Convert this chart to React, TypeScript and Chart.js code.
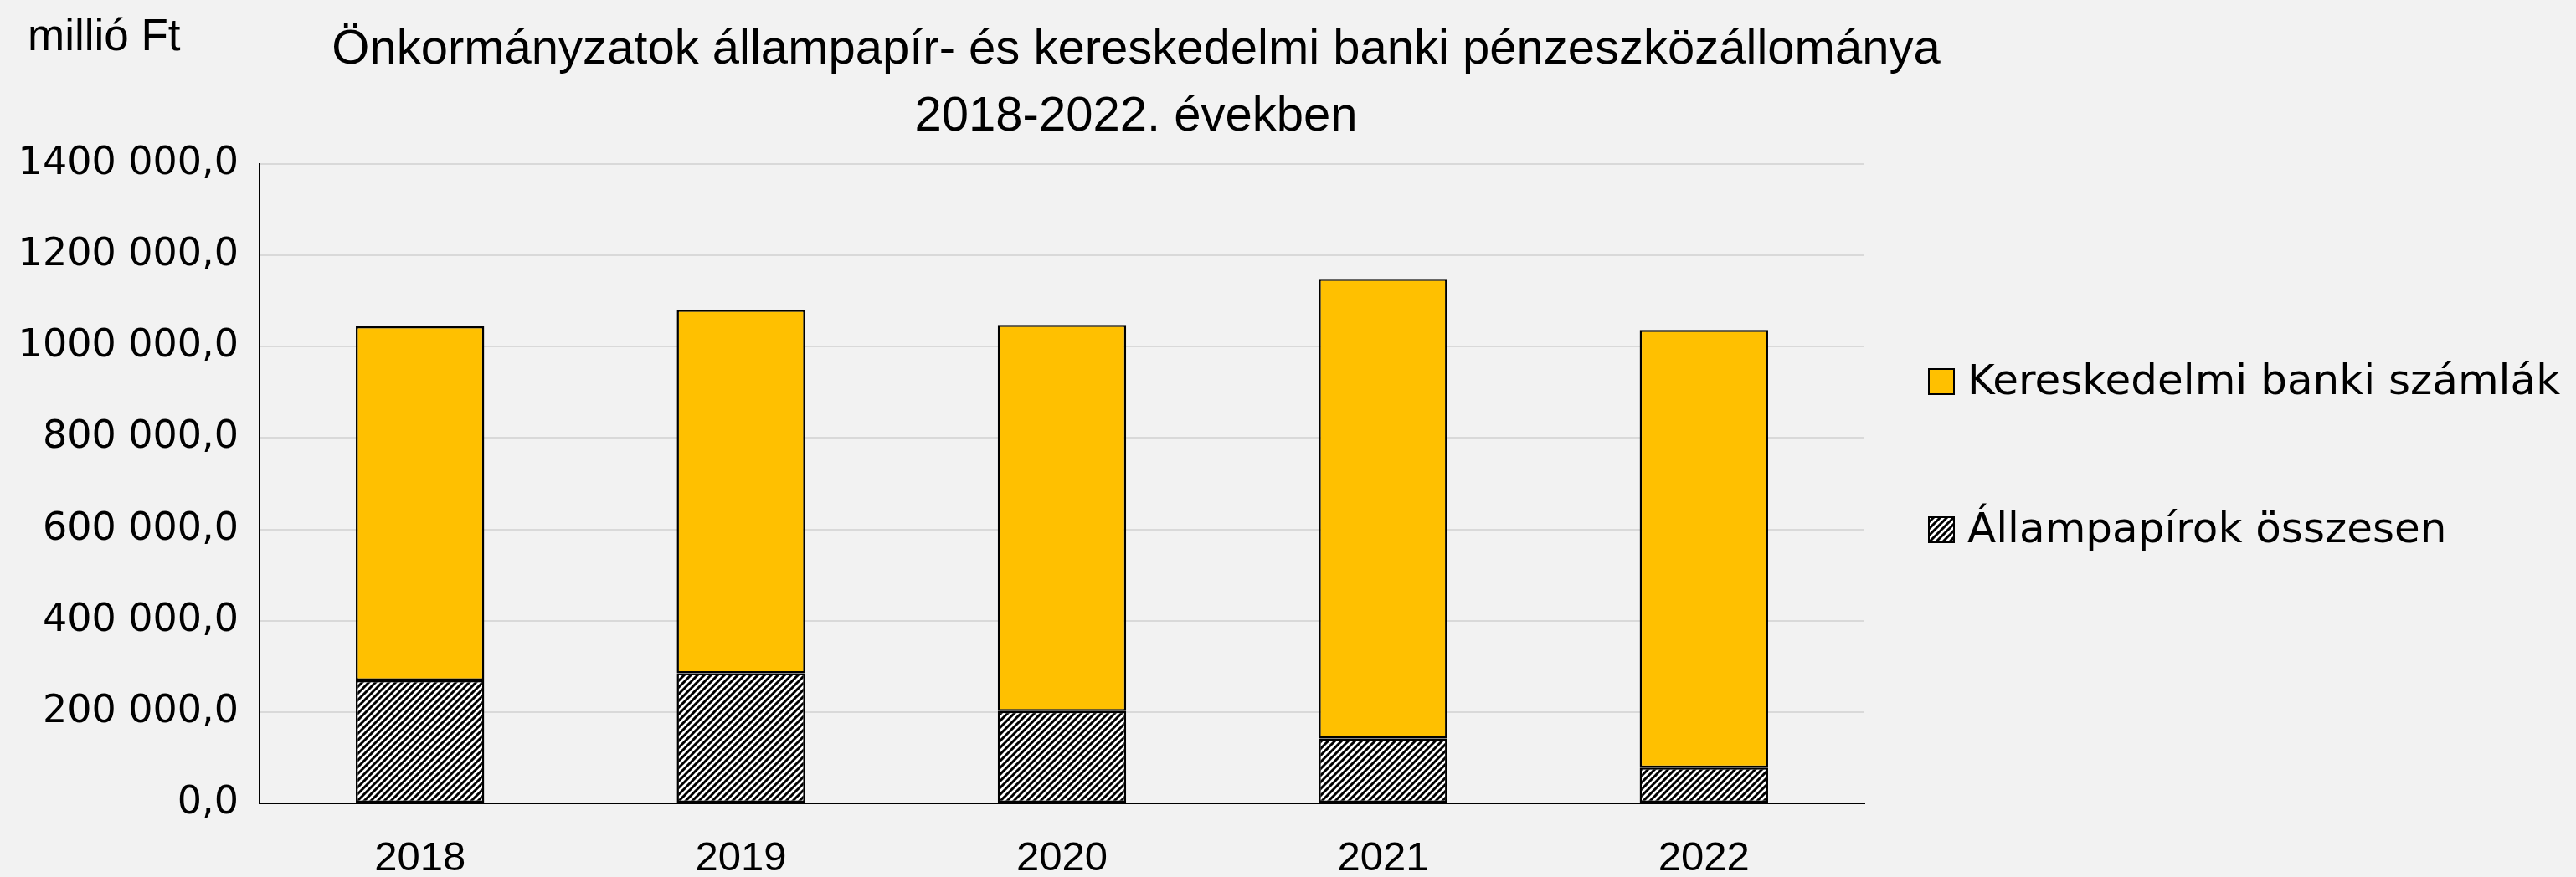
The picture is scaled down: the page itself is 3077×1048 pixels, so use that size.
import React, { useEffect, useRef } from "react";
import { Chart, registerables } from "chart.js";

Chart.register(...registerables);

const categories = ["2018", "2019", "2020", "2021", "2022"];
const allampapirok = [269500, 284900, 202000, 141800, 78300];
const kereskedelmi = [775100, 795800, 845700, 1006800, 958400];
const seriesNames = ["Kereskedelmi banki számlák", "Állampapírok összesen"];
const titleLines = [
  "Önkormányzatok állampapír- és kereskedelmi banki pénzeszközállománya",
  "2018-2022. években",
];
const unitLabel = "millió Ft";

const W = 3077;
const H = 1048;
const BG = "#F2F2F2";
const YELLOW = "#FFC000";
const NARROW = "'Liberation Sans Narrow', 'Liberation Sans', sans-serif";
const GOTHIC = "'DejaVu Sans', sans-serif";

function makeHatch(): CanvasPattern | string {
  const n = 8;
  const c = document.createElement("canvas");
  c.width = n;
  c.height = n;
  const p = c.getContext("2d");
  if (!p) return "#888";
  p.fillStyle = "#ffffff";
  p.fillRect(0, 0, n, n);
  p.strokeStyle = "#000000";
  p.lineWidth = 3;
  p.beginPath();
  // lines x + y = 0, n, 2n
  p.moveTo(-2, 2);
  p.lineTo(2, -2);
  p.moveTo(-2, n + 2);
  p.lineTo(n + 2, -2);
  p.moveTo(n - 2, n + 2);
  p.lineTo(n + 2, n - 2);
  p.stroke();
  const pat = p.createPattern(c, "repeat");
  return pat || "#888";
}

function fmt(v: number): string {
  if (v === 0) return "0,0";
  const th = Math.floor(v / 1000);
  const rest = String(v % 1000).padStart(3, "0");
  return `${th} ${rest},0`;
}

export default function App() {
  const ref = useRef<HTMLCanvasElement>(null);
  useEffect(() => {
    if (!ref.current) return;
    const hatch = makeHatch();
    const decor = {
      id: "decor",
      beforeDraw(chart: any) {
        const ctx = chart.ctx;
        ctx.save();
        ctx.fillStyle = BG;
        ctx.fillRect(0, 0, chart.width, chart.height);
        ctx.restore();
      },
      afterDraw(chart: any) {
        const ctx = chart.ctx;
        ctx.save();
        ctx.fillStyle = "#000";
        ctx.textBaseline = "alphabetic";
        // unit label
        ctx.font = `53px ${NARROW}`;
        ctx.textAlign = "left";
        ctx.fillText(unitLabel, 33, 60);
        // title
        ctx.font = `58px ${NARROW}`;
        ctx.textAlign = "center";
        ctx.fillText(titleLines[0], 1357, 76);
        ctx.fillText(titleLines[1], 1357, 156);
        // legend
        const items = [
          { text: seriesNames[0], fill: YELLOW, y: 456 },
          { text: seriesNames[1], fill: hatch, y: 633 },
        ];
        ctx.font = `50px ${GOTHIC}`;
        ctx.textAlign = "left";
        ctx.textBaseline = "middle";
        for (const it of items) {
          ctx.fillStyle = it.fill as any;
          ctx.fillRect(2304, it.y - 15, 30, 30);
          ctx.strokeStyle = "#000";
          ctx.lineWidth = 2;
          ctx.strokeRect(2304, it.y - 15, 30, 30);
          ctx.fillStyle = "#000";
          ctx.fillText(it.text, 2350, it.y + 2);
        }
        ctx.restore();
      },
    };
    const chart = new Chart(ref.current, {
      type: "bar",
      data: {
        labels: categories,
        datasets: [
          {
            label: seriesNames[1],
            data: allampapirok,
            backgroundColor: hatch as any,
            borderColor: "#000",
            borderWidth: 2.5,
            borderSkipped: false,
            barPercentage: 0.4,
            categoryPercentage: 1,
          },
          {
            label: seriesNames[0],
            data: kereskedelmi,
            backgroundColor: YELLOW,
            borderColor: "#000",
            borderWidth: 2.5,
            borderSkipped: false,
            barPercentage: 0.4,
            categoryPercentage: 1,
          },
        ],
      },
      options: {
        responsive: false,
        animation: false,
        layout: { padding: { top: 196, right: 850, bottom: 0, left: 0 } },
        plugins: {
          legend: { display: false },
          title: { display: false },
          tooltip: { enabled: false },
        },
        scales: {
          x: {
            stacked: true,
            grid: { display: false, drawTicks: false },
            border: { display: true, color: "#000", width: 2 },
            ticks: {
              color: "#000",
              padding: 37,
              font: { family: NARROW, size: 49 },
            },
            afterFit: (s: any) => {
              s.height = 88;
            },
          },
          y: {
            stacked: true,
            min: 0,
            max: 1400000,
            grid: { color: "#D9D9D9", lineWidth: 2, drawTicks: false },
            border: { display: true, color: "#000", width: 2 },
            ticks: {
              stepSize: 200000,
              color: "#000",
              padding: 25,
              font: { family: GOTHIC, size: 46 },
              callback: (v: any) => fmt(Number(v)),
            },
            afterFit: (s: any) => {
              s.width = 310;
            },
          },
        },
      },
      plugins: [decor],
    });
    return () => chart.destroy();
  }, []);
  return (
    <div style={{ position: "absolute", left: 0, top: 0, width: W, height: H, background: BG }}>
      <canvas ref={ref} width={W} height={H} style={{ display: "block" }} />
    </div>
  );
}
